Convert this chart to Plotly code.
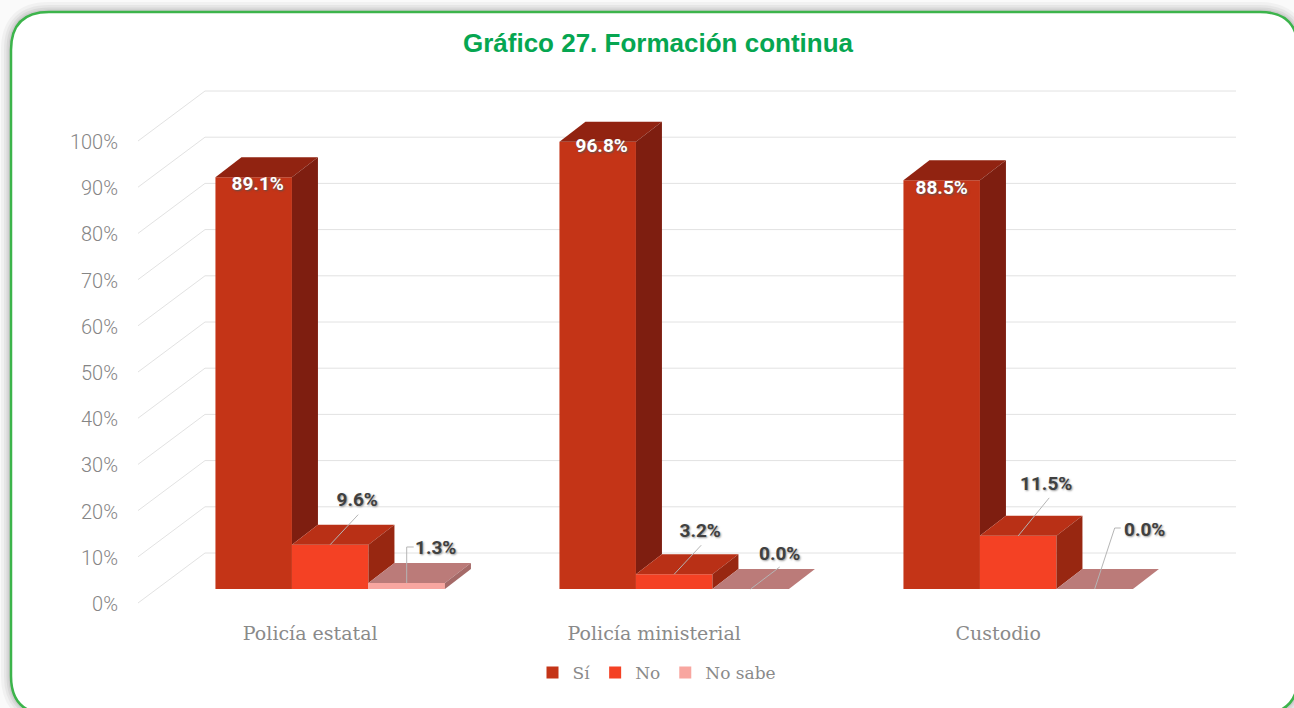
import plotly.graph_objects as go

# ---- data ----
categories = ["Policía estatal", "Policía ministerial", "Custodio"]
series_names = ["Sí", "No", "No sabe"]
si_values = [89.1, 96.8, 88.5]
no_values = [9.6, 3.2, 11.5]
no_sabe_values = [1.3, 0.0, 0.0]
y_ticks = [0, 10, 20, 30, 40, 50, 60, 70, 80, 90, 100]
title_text = "Gráfico 27. Formación continua"

# ---- styles ----
front_colors = ["#c43417", "#f44124", "#f8a6a0"]
top_colors = ["#912311", "#b93016", "#bb7b79"]
side_colors = ["#7e1e10", "#982711", "#a56a68"]
W, H = 1294, 708
PX_PER_PCT = 4.62
BASE_PX = 589
BAR_W = 76.5
CL0, CL_STEP = 330.2, 344
DX, DY = 26, 20 / PX_PER_PCT
GRID = "#e2e2e2"
TXT = "#8a8a8a"
SERIF = "DejaVu Serif"


def pct(py):
    return (BASE_PX - py) / PX_PER_PCT


series = [si_values, no_values, no_sabe_values]
cl_x = [CL0 + CL_STEP * i for i in range(len(categories))]
fig = go.Figure()

# front faces: real bars
for j, name in enumerate(series_names):
    fig.add_bar(
        x=[c + (j - 1) * BAR_W for c in cl_x], y=series[j], width=BAR_W, name=name,
        marker=dict(color=front_colors[j], line=dict(width=0)), hoverinfo="skip",
    )

# top and side faces derived from the same values
for j in range(3):
    for i, c in enumerate(cl_x):
        v = series[j][i]
        l = c + (j - 1) * BAR_W - BAR_W / 2
        r = l + BAR_W
        nxt = series[j + 1][i] if j < 2 else 0
        fig.add_scatter(x=[l, r, r + DX, l + DX, l], y=[v, v, v + DY, v + DY, v], mode="lines",
                        fill="toself", fillcolor=top_colors[j], line=dict(width=0),
                        showlegend=False, hoverinfo="skip")
        if v > 0:
            fig.add_scatter(x=[r, r + DX, r + DX, r, r], y=[v, v + DY, nxt + DY, nxt, v], mode="lines",
                            fill="toself", fillcolor=side_colors[j], line=dict(width=0),
                            showlegend=False, hoverinfo="skip")

# data labels, offsets in pixels from the top-centre of the bar front
label_offset = {
    (0, 0): (4, -8), (0, 1): (4, -5), (0, 2): (0, -9),
    (1, 0): (27, 43), (1, 1): (26, 42), (1, 2): (28, 51),
    (2, 0): (29, 34), (2, 1): (29, 34), (2, 2): (50, 58),
}
leader_paths = {
    (1, 0): [(0, 0), (28, 30)], (1, 1): [(0, 0), (27, 29)], (1, 2): [(0, 0), (31, 38)],
    (2, 0): [(0, 0), (0, 36), (7, 36)], (2, 1): [(0, 0), (29, 22)],
    (2, 2): [(0, 0), (20, 61), (26, 61)],
}
for (j, i), pts in leader_paths.items():
    c = cl_x[i] + (j - 1) * BAR_W
    v = series[j][i]
    fig.add_scatter(x=[c + p[0] for p in pts], y=[v + p[1] / PX_PER_PCT for p in pts], mode="lines",
                    line=dict(color="#b5b5b5", width=1), showlegend=False, hoverinfo="skip")

for (j, i), (ox, oy) in label_offset.items():
    c = cl_x[i] + (j - 1) * BAR_W
    v = series[j][i]
    fig.add_scatter(
        x=[c + ox], y=[v + oy / PX_PER_PCT], mode="text", text=[f"{v:.1f}%"],
        textposition="middle center", showlegend=False, hoverinfo="skip",
        textfont=dict(
            family="Roboto", size=19, weight=700,
            color="#ffffff" if j == 0 else "#404040",
            shadow="1px 1px 2px #555555" if j == 0 else "1px 1px 2px #999999",
        ),
    )

# invisible carrier for the offset percent axis
fig.add_scatter(x=[138] * len(y_ticks), y=y_ticks, yaxis="y2", mode="lines", line=dict(width=0),
                showlegend=False, hoverinfo="skip")

# wall gridlines
shapes = []
back = 36 / PX_PER_PCT
front = -14 / PX_PER_PCT
for t in y_ticks:
    shapes.append(dict(type="line", xref="x", yref="y", x0=205, x1=1236, y0=t + back, y1=t + back,
                       line=dict(color=GRID, width=1), layer="below"))
    shapes.append(dict(type="line", xref="x", yref="y", x0=138, x1=205, y0=t + front, y1=t + back,
                       line=dict(color=GRID, width=1), layer="below"))


def card(x0, y0, x1, y1, r):
    px = lambda x: x / W
    py = lambda y: 1 - y / H
    return (f"M {px(x0 + r)} {py(y0)} L {px(x1 - r)} {py(y0)} Q {px(x1)} {py(y0)} {px(x1)} {py(y0 + r)} "
            f"L {px(x1)} {py(y1 - r)} Q {px(x1)} {py(y1)} {px(x1 - r)} {py(y1)} "
            f"L {px(x0 + r)} {py(y1)} Q {px(x0)} {py(y1)} {px(x0)} {py(y1 - r)} "
            f"L {px(x0)} {py(y0 + r)} Q {px(x0)} {py(y0)} {px(x0 + r)} {py(y0)} Z")


card_path = card(11, 12, 1298, 714, 38)
under = []
for wd, op in [(20, 0.03), (14, 0.04), (9, 0.05), (5, 0.06)]:
    under.append(dict(type="path", xref="paper", yref="paper", path=card_path, layer="below",
                      line=dict(color="#000000", width=wd), opacity=op))
under.append(dict(type="path", xref="paper", yref="paper", path=card_path, layer="below",
                  fillcolor="#ffffff", line=dict(color="#3cb44b", width=2.5)))

fig.update_layout(
    width=W, height=H, margin=dict(l=0, r=0, t=0, b=0, pad=0), autosize=False,
    paper_bgcolor="#fafafa", plot_bgcolor="rgba(0,0,0,0)",
    barmode="overlay", shapes=under + shapes, hovermode=False,
    title=dict(text=title_text, x=658 / W, xanchor="center", y=1 - 43 / H, yanchor="middle",
               font=dict(family="Liberation Sans", size=26, weight=700, color="#06a651")),
    xaxis=dict(range=[0, W], tickvals=[c - 20 for c in cl_x], ticktext=categories, anchor="free",
               position=1 - 620 / H, showgrid=False, zeroline=False, showline=False, ticks="",
               tickfont=dict(family=SERIF, size=19, color=TXT, weight=300)),
    yaxis=dict(range=[pct(H), pct(0)], showgrid=False, zeroline=False, showline=False,
               showticklabels=False, ticks=""),
    yaxis2=dict(range=[pct(H - 15), pct(-15)], overlaying="y", anchor="free", position=118 / W, side="left",
                tickvals=y_ticks, ticktext=[f"{t}%" for t in y_ticks], showgrid=False, zeroline=False,
                showline=False, ticks="", tickfont=dict(family="Roboto", size=20, color="#858585", weight=300)),
    legend=dict(orientation="h", x=657 / W, xanchor="center", y=1 - 673 / H, yanchor="middle",
                font=dict(family=SERIF, size=17, color=TXT, weight=300), bgcolor="rgba(0,0,0,0)",
                itemclick=False, itemdoubleclick=False),
)

fig.write_html("out.html", config=dict(displayModeBar=False),
               post_script="document.body.style.margin='0';document.body.style.overflow='hidden';")
